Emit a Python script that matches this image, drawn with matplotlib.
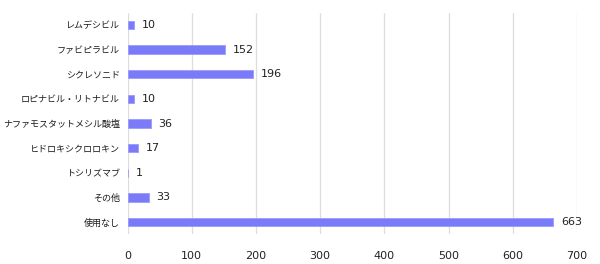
import matplotlib.pyplot as plt

plt.rcParams['font.family'] = ['Noto Sans CJK JP', 'DejaVu Sans']

drugs = ["レムデシビル", "ファビピラビル", "シクレソニド", "ロピナビル・リトナビル",
         "ナファモスタットメシル酸塩", "ヒドロキシクロロキン", "トシリズマブ", "その他", "使用なし"]
counts = [10, 152, 196, 10, 36, 17, 1, 33, 663]
xticks = [0, 100, 200, 300, 400, 500, 600, 700]


def plot_bars(drugs, counts):
    fig = plt.figure(figsize=(6, 2.64), dpi=100)
    ax = fig.add_axes([0.2125, 0.112, 0.749, 0.84])
    pos = list(range(len(drugs)))
    ax.barh(pos, counts, height=0.34, color="#7b7bfa", edgecolor="#9a9aff", linewidth=0.6, zorder=3)
    for p, c in zip(pos, counts):
        ax.text(c + 12, p, str(c), va="center", ha="left", fontsize=8,
                family="DejaVu Sans", color="#222222")
    ax.set_yticks(pos)
    ax.set_yticklabels(drugs, fontsize=6.5, color="#1a1a1a")
    ax.set_ylim(len(drugs) - 0.5, -0.5)
    ax.set_xlim(0, 700)
    ax.set_xticks(xticks)
    ax.set_xticklabels([str(t) for t in xticks], fontsize=8, family="DejaVu Sans", color="#222222")
    ax.grid(axis="x", color="#dddddd", linewidth=0.9, zorder=0)
    ax.tick_params(length=0, pad=5.5)
    ax.tick_params(axis="x", pad=12)
    for s in ax.spines.values():
        s.set_visible(False)
    fig.savefig("out.png")


plot_bars(drugs, counts)
